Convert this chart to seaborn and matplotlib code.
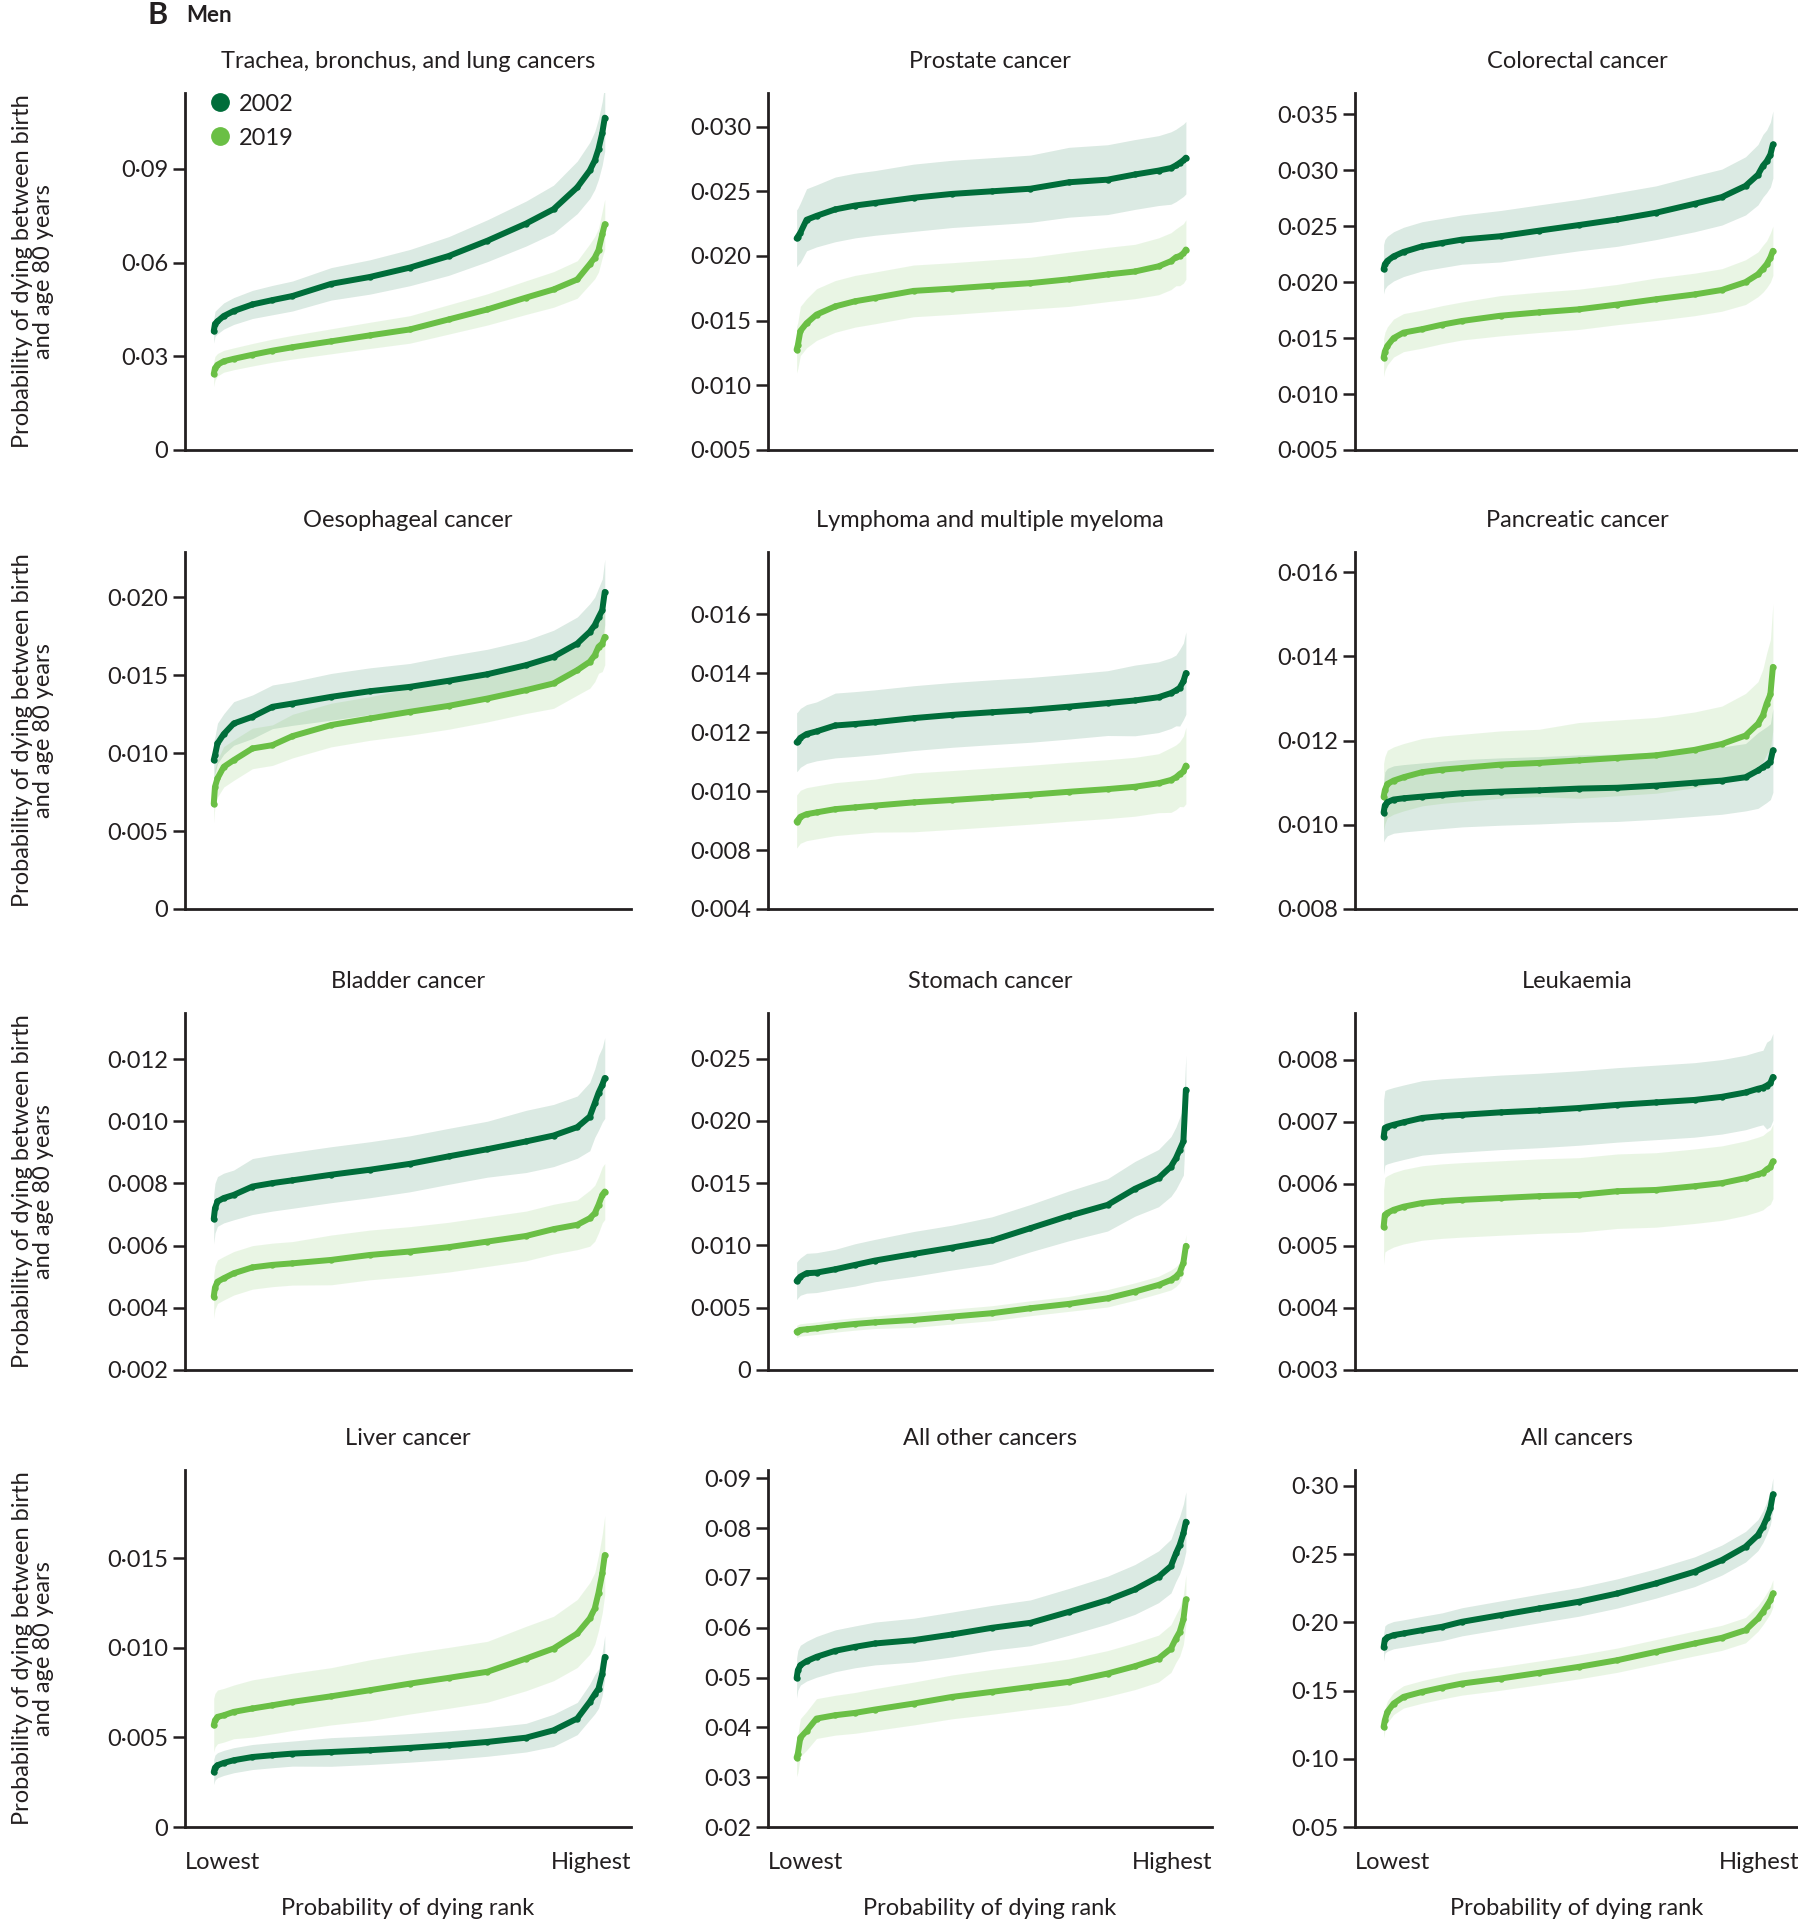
import numpy as np
import pandas as pd
import matplotlib
matplotlib.use("Agg")
import matplotlib.pyplot as plt
from matplotlib.lines import Line2D
import seaborn as sns

# ---------------- data ----------------
ranks = [1, 2, 4, 9, 17, 32, 48, 64, 95, 126, 158, 189, 220, 251, 273, 292, 302, 306, 309, 312, 314]
years = ["2002", "2019"]
titles = ["Trachea, bronchus, and lung cancers", "Prostate cancer", "Colorectal cancer",
          "Oesophageal cancer", "Lymphoma and multiple myeloma", "Pancreatic cancer",
          "Bladder cancer", "Stomach cancer", "Leukaemia",
          "Liver cancer", "All other cancers", "All cancers"]

lung_2002 = [0.0380, 0.0404, 0.0412, 0.0429, 0.0445, 0.0466, 0.0480, 0.0493, 0.0532, 0.0554, 0.0584, 0.0621, 0.0670, 0.0725, 0.0771, 0.0841, 0.0895, 0.0927, 0.0964, 0.1015, 0.1064]
lung_2019 = [0.0243, 0.0262, 0.0273, 0.0284, 0.0292, 0.0305, 0.0318, 0.0329, 0.0348, 0.0367, 0.0386, 0.0418, 0.0450, 0.0488, 0.0514, 0.0546, 0.0595, 0.0616, 0.0640, 0.0691, 0.0723]
lung_2002_ci = [0.0038, 0.0040, 0.0040, 0.0042, 0.0043, 0.0045, 0.0047, 0.0048, 0.0052, 0.0055, 0.0058, 0.0062, 0.0067, 0.0072, 0.0077, 0.0084, 0.0090, 0.0093, 0.0097, 0.0102, 0.0107]
lung_2019_ci = [0.0040, 0.0038, 0.0036, 0.0035, 0.0035, 0.0036, 0.0037, 0.0038, 0.0040, 0.0042, 0.0044, 0.0047, 0.0050, 0.0054, 0.0057, 0.0060, 0.0065, 0.0068, 0.0070, 0.0075, 0.0080]

prostate_2002 = [0.02136, 0.0215, 0.0218, 0.0228, 0.0231, 0.0236, 0.0239, 0.0241, 0.0245, 0.0248, 0.0250, 0.0252, 0.0257, 0.0259, 0.0263, 0.0266, 0.0268, 0.0270, 0.0272, 0.0274, 0.0276]
prostate_2019 = [0.01275, 0.0131, 0.0142, 0.0148, 0.01547, 0.0161, 0.0165, 0.01676, 0.0173, 0.01748, 0.0177, 0.0179, 0.0182, 0.01857, 0.0188, 0.0192, 0.0196, 0.0199, 0.0200, 0.0202, 0.0205]
prostate_2002_ci = [0.0022, 0.0022, 0.0023, 0.0024, 0.0024, 0.0025, 0.0025, 0.0025, 0.0026, 0.0026, 0.0026, 0.0026, 0.0027, 0.0027, 0.0027, 0.0027, 0.0028, 0.0028, 0.0028, 0.0028, 0.0028]
prostate_2019_ci = [0.0018, 0.0018, 0.0019, 0.0019, 0.0020, 0.0020, 0.0020, 0.0020, 0.0020, 0.0020, 0.0020, 0.0020, 0.0021, 0.0021, 0.0021, 0.0022, 0.0022, 0.0022, 0.0023, 0.0023, 0.0023]

colorectal_2002 = [0.02115, 0.0216, 0.0219, 0.0223, 0.0227, 0.0232, 0.0235, 0.0238, 0.0241, 0.0246, 0.0251, 0.0256, 0.0262, 0.0270, 0.0276, 0.0286, 0.0296, 0.0304, 0.0308, 0.0314, 0.0323]
colorectal_2019 = [0.01325, 0.0138, 0.0143, 0.0150, 0.01549, 0.0158, 0.0162, 0.01653, 0.0170, 0.0173, 0.01757, 0.0180, 0.01847, 0.0189, 0.0193, 0.0200, 0.0207, 0.0212, 0.0216, 0.0222, 0.0228]
colorectal_2002_ci = [0.0022, 0.0022, 0.0022, 0.0022, 0.0022, 0.0022, 0.0022, 0.0022, 0.0023, 0.0023, 0.0023, 0.0024, 0.0024, 0.0025, 0.0025, 0.0026, 0.0027, 0.0028, 0.0028, 0.0029, 0.0030]
colorectal_2019_ci = [0.0017, 0.0017, 0.0017, 0.0017, 0.0017, 0.0017, 0.0017, 0.0017, 0.0018, 0.0018, 0.0018, 0.0018, 0.0019, 0.0019, 0.0019, 0.0020, 0.0020, 0.0021, 0.0021, 0.0022, 0.0022]

oesophageal_2002 = [0.00955, 0.00987, 0.01062, 0.01122, 0.0119, 0.01233, 0.01297, 0.01318, 0.01361, 0.01397, 0.01425, 0.01464, 0.01506, 0.01564, 0.01618, 0.01703, 0.01778, 0.01821, 0.0187, 0.01917, 0.02034]
oesophageal_2019 = [0.00673, 0.00784, 0.00838, 0.00912, 0.00955, 0.0103, 0.01051, 0.01109, 0.0118, 0.01222, 0.01265, 0.01303, 0.0135, 0.01404, 0.01447, 0.01532, 0.01586, 0.01628, 0.01682, 0.01703, 0.01746]
oesophageal_2002_ci = [0.0012, 0.0012, 0.0013, 0.0013, 0.0014, 0.0014, 0.0014, 0.0014, 0.0015, 0.0015, 0.0015, 0.0016, 0.0016, 0.0016, 0.0017, 0.0017, 0.0018, 0.0018, 0.0019, 0.0020, 0.0021]
oesophageal_2019_ci = [0.0012, 0.0012, 0.0012, 0.0013, 0.0013, 0.0013, 0.0013, 0.0014, 0.0014, 0.0014, 0.0015, 0.0015, 0.0015, 0.0015, 0.0016, 0.0016, 0.0017, 0.0017, 0.0017, 0.0018, 0.0018]

lymphoma_2002 = [0.01166, 0.0117, 0.01181, 0.01194, 0.01203, 0.01223, 0.01228, 0.01234, 0.01248, 0.01259, 0.01268, 0.01276, 0.01287, 0.01299, 0.01308, 0.01319, 0.01333, 0.01342, 0.01351, 0.01373, 0.01401]
lymphoma_2019 = [0.00897, 0.00902, 0.00913, 0.00922, 0.00928, 0.00939, 0.00945, 0.00951, 0.00962, 0.0097, 0.00979, 0.00988, 0.00998, 0.01007, 0.01015, 0.01027, 0.01038, 0.01047, 0.01058, 0.01067, 0.01087]
lymphoma_2002_ci = [0.0010, 0.0010, 0.0010, 0.0010, 0.0010, 0.0011, 0.0011, 0.0011, 0.0011, 0.0011, 0.0011, 0.0011, 0.0011, 0.0011, 0.0012, 0.0012, 0.0012, 0.0012, 0.0013, 0.0013, 0.0014]
lymphoma_2019_ci = [0.0009, 0.0009, 0.0009, 0.0009, 0.0009, 0.0009, 0.0009, 0.0009, 0.0010, 0.0010, 0.0010, 0.0010, 0.0010, 0.0010, 0.0010, 0.0010, 0.0011, 0.0011, 0.0011, 0.0012, 0.0013]

pancreatic_2002 = [0.01029, 0.01046, 0.01054, 0.0106, 0.01063, 0.01067, 0.01071, 0.01075, 0.01079, 0.01082, 0.01086, 0.01088, 0.01093, 0.0110, 0.01105, 0.01113, 0.01129, 0.01137, 0.01143, 0.0115, 0.01177]
pancreatic_2019 = [0.01066, 0.01082, 0.01097, 0.01105, 0.01113, 0.01125, 0.01131, 0.01135, 0.01143, 0.01147, 0.01153, 0.01159, 0.01165, 0.01178, 0.01192, 0.01212, 0.0124, 0.0126, 0.01288, 0.0131, 0.01375]
pancreatic_2002_ci = [0.0007, 0.0008, 0.0008, 0.0008, 0.0008, 0.0008, 0.0008, 0.0008, 0.0008, 0.0008, 0.0008, 0.0008, 0.0008, 0.0008, 0.0008, 0.0008, 0.0009, 0.0009, 0.0009, 0.0009, 0.0010]
pancreatic_2019_ci = [0.0008, 0.0008, 0.0008, 0.0008, 0.0008, 0.0008, 0.0008, 0.0008, 0.0008, 0.0008, 0.0009, 0.0009, 0.0009, 0.0009, 0.0009, 0.0010, 0.0010, 0.0011, 0.0012, 0.0013, 0.0015]

bladder_2002 = [0.00685, 0.0072, 0.00742, 0.00753, 0.00763, 0.0079, 0.00801, 0.0081, 0.00828, 0.00844, 0.00863, 0.00887, 0.0091, 0.00935, 0.00954, 0.00981, 0.01015, 0.01058, 0.01091, 0.01117, 0.01139]
bladder_2019 = [0.00436, 0.00465, 0.00484, 0.00495, 0.00511, 0.0053, 0.00538, 0.00543, 0.00554, 0.0057, 0.00581, 0.00595, 0.00613, 0.00631, 0.00653, 0.00667, 0.00688, 0.00704, 0.00731, 0.00763, 0.00774]
bladder_2002_ci = [0.0008, 0.0008, 0.0008, 0.0008, 0.0008, 0.0009, 0.0009, 0.0009, 0.0009, 0.0009, 0.0009, 0.0009, 0.0009, 0.0010, 0.0010, 0.0010, 0.0011, 0.0011, 0.0012, 0.0012, 0.0013]
bladder_2019_ci = [0.0007, 0.0007, 0.0007, 0.0007, 0.0007, 0.0007, 0.0007, 0.0007, 0.0008, 0.0008, 0.0008, 0.0008, 0.0008, 0.0008, 0.0008, 0.0008, 0.0009, 0.0009, 0.0009, 0.0009, 0.0009]

stomach_2002 = [0.00715, 0.00729, 0.0075, 0.00777, 0.00782, 0.00809, 0.00844, 0.00879, 0.00932, 0.00983, 0.0104, 0.01139, 0.01238, 0.01326, 0.01455, 0.01541, 0.01634, 0.01701, 0.01768, 0.01836, 0.02251]
stomach_2019 = [0.00308, 0.00314, 0.00322, 0.00327, 0.00335, 0.00354, 0.0037, 0.00383, 0.00402, 0.00429, 0.00456, 0.00496, 0.00531, 0.00576, 0.0063, 0.00683, 0.00723, 0.0075, 0.00782, 0.00863, 0.00997]
stomach_2002_ci = [0.0015, 0.0015, 0.0015, 0.0016, 0.0016, 0.0016, 0.0017, 0.0017, 0.0018, 0.0018, 0.0019, 0.0019, 0.0020, 0.0021, 0.0022, 0.0023, 0.0024, 0.0025, 0.0026, 0.0027, 0.0028]
stomach_2019_ci = [0.0005, 0.0005, 0.0005, 0.0005, 0.0005, 0.0005, 0.0005, 0.0005, 0.0006, 0.0006, 0.0006, 0.0006, 0.0006, 0.0007, 0.0007, 0.0007, 0.0008, 0.0008, 0.0008, 0.0009, 0.0009]

leukaemia_2002 = [0.00675, 0.0069, 0.00692, 0.00695, 0.00699, 0.00706, 0.00709, 0.00711, 0.00715, 0.00718, 0.00722, 0.00727, 0.00731, 0.00735, 0.0074, 0.00747, 0.00753, 0.00755, 0.00758, 0.00762, 0.00772]
leukaemia_2019 = [0.0053, 0.0055, 0.00553, 0.00558, 0.00563, 0.00569, 0.00572, 0.00574, 0.00577, 0.0058, 0.00582, 0.00588, 0.0059, 0.00596, 0.00601, 0.00609, 0.00615, 0.00618, 0.00623, 0.00627, 0.00636]
leukaemia_2002_ci = [0.0006, 0.0006, 0.0006, 0.0006, 0.0006, 0.0006, 0.0006, 0.0006, 0.0006, 0.0006, 0.0006, 0.0006, 0.0006, 0.0006, 0.0006, 0.0006, 0.0006, 0.0006, 0.0007, 0.0007, 0.0007]
leukaemia_2019_ci = [0.0006, 0.0006, 0.0006, 0.0006, 0.0006, 0.0006, 0.0006, 0.0006, 0.0006, 0.0006, 0.0006, 0.0006, 0.0006, 0.0006, 0.0006, 0.0006, 0.0006, 0.0006, 0.0006, 0.0006, 0.0006]

liver_2002 = [0.00307, 0.00332, 0.00345, 0.00358, 0.00373, 0.00391, 0.00401, 0.0041, 0.00419, 0.00429, 0.00442, 0.00457, 0.00475, 0.00499, 0.0054, 0.00606, 0.00699, 0.00742, 0.00773, 0.00857, 0.0095]
liver_2019 = [0.00568, 0.00596, 0.00615, 0.00624, 0.00643, 0.00662, 0.0068, 0.00699, 0.0073, 0.00764, 0.00801, 0.00833, 0.00867, 0.00941, 0.00997, 0.01081, 0.01165, 0.01221, 0.01308, 0.01416, 0.01519]
liver_2002_ci = [0.0007, 0.0007, 0.0007, 0.0007, 0.0007, 0.0007, 0.0007, 0.0007, 0.0008, 0.0008, 0.0008, 0.0008, 0.0008, 0.0008, 0.0009, 0.0009, 0.0010, 0.0011, 0.0011, 0.0012, 0.0012]
liver_2019_ci = [0.0015, 0.0015, 0.0015, 0.0015, 0.0015, 0.0016, 0.0016, 0.0016, 0.0016, 0.0017, 0.0017, 0.0017, 0.0017, 0.0018, 0.0018, 0.0019, 0.0020, 0.0020, 0.0021, 0.0022, 0.0022]

other_2002 = [0.04987, 0.05148, 0.05249, 0.05329, 0.05416, 0.05537, 0.05617, 0.05684, 0.05751, 0.05865, 0.05999, 0.06099, 0.0632, 0.06555, 0.06769, 0.07023, 0.07238, 0.07492, 0.0766, 0.07894, 0.08129]
other_2019 = [0.03393, 0.03474, 0.03795, 0.03929, 0.04177, 0.04244, 0.04291, 0.04358, 0.04478, 0.04612, 0.04713, 0.04813, 0.04914, 0.05081, 0.05228, 0.05382, 0.05583, 0.05784, 0.05918, 0.06166, 0.06568]
other_2002_ci = [0.0040, 0.0040, 0.0040, 0.0040, 0.0041, 0.0042, 0.0042, 0.0043, 0.0044, 0.0045, 0.0045, 0.0046, 0.0047, 0.0048, 0.0050, 0.0052, 0.0054, 0.0056, 0.0058, 0.0059, 0.0060]
other_2019_ci = [0.0038, 0.0038, 0.0038, 0.0039, 0.0040, 0.0040, 0.0041, 0.0042, 0.0043, 0.0044, 0.0045, 0.0045, 0.0046, 0.0046, 0.0047, 0.0047, 0.0048, 0.0048, 0.0049, 0.0050, 0.0050]

allc_2002 = [0.18154, 0.18741, 0.18888, 0.19059, 0.19181, 0.19425, 0.1967, 0.20037, 0.20526, 0.21015, 0.21504, 0.22115, 0.2285, 0.23704, 0.2456, 0.25538, 0.26394, 0.27005, 0.27616, 0.2835, 0.29377]
allc_2019 = [0.12335, 0.12824, 0.13435, 0.14046, 0.14535, 0.14902, 0.1522, 0.15513, 0.1588, 0.16296, 0.16736, 0.17225, 0.17836, 0.18447, 0.18863, 0.19425, 0.2028, 0.2077, 0.21186, 0.21626, 0.22115]
allc_2002_ci = [0.0100, 0.0100, 0.0100, 0.0100, 0.0100, 0.0101, 0.0102, 0.0103, 0.0104, 0.0105, 0.0106, 0.0107, 0.0108, 0.0109, 0.0110, 0.0112, 0.0114, 0.0116, 0.0118, 0.0119, 0.0120]
allc_2019_ci = [0.0080, 0.0080, 0.0080, 0.0081, 0.0082, 0.0083, 0.0084, 0.0085, 0.0086, 0.0087, 0.0088, 0.0089, 0.0090, 0.0091, 0.0092, 0.0093, 0.0094, 0.0095, 0.0096, 0.0098, 0.0100]

# y ticks and tick labels per panel
yticks = [
    [0, 0.03, 0.06, 0.09],
    [0.005, 0.010, 0.015, 0.020, 0.025, 0.030],
    [0.005, 0.010, 0.015, 0.020, 0.025, 0.030, 0.035],
    [0, 0.005, 0.010, 0.015, 0.020],
    [0.006, 0.008, 0.010, 0.012, 0.014, 0.016],
    [0.008, 0.010, 0.012, 0.014, 0.016],
    [0.002, 0.004, 0.006, 0.008, 0.010, 0.012],
    [0, 0.005, 0.010, 0.015, 0.020, 0.025],
    [0.003, 0.004, 0.005, 0.006, 0.007, 0.008],
    [0, 0.005, 0.010, 0.015],
    [0.02, 0.03, 0.04, 0.05, 0.06, 0.07, 0.08, 0.09],
    [0.05, 0.10, 0.15, 0.20, 0.25, 0.30],
]
ytick_labels = [
    ["0", "0·03", "0·06", "0·09"],
    ["0·005", "0·010", "0·015", "0·020", "0·025", "0·030"],
    ["0·005", "0·010", "0·015", "0·020", "0·025", "0·030", "0·035"],
    ["0", "0·005", "0·010", "0·015", "0·020"],
    ["0·004", "0·008", "0·010", "0·012", "0·014", "0·016"],
    ["0·008", "0·010", "0·012", "0·014", "0·016"],
    ["0·002", "0·004", "0·006", "0·008", "0·010", "0·012"],
    ["0", "0·005", "0·010", "0·015", "0·020", "0·025"],
    ["0·003", "0·004", "0·005", "0·006", "0·007", "0·008"],
    ["0", "0·005", "0·010", "0·015"],
    ["0·02", "0·03", "0·04", "0·05", "0·06", "0·07", "0·08", "0·09"],
    ["0·05", "0·10", "0·15", "0·20", "0·25", "0·30"],
]
ylims = [(0, 0.1143), (0.005, 0.0326), (0.005, 0.0369), (0, 0.0229), (0.006, 0.01812), (0.008, 0.01648),
         (0.002, 0.01348), (0, 0.02867), (0.003, 0.00875), (0, 0.01994), (0.02, 0.09167), (0.05, 0.3116)]

series = [
    (lung_2002, lung_2019, lung_2002_ci, lung_2019_ci),
    (prostate_2002, prostate_2019, prostate_2002_ci, prostate_2019_ci),
    (colorectal_2002, colorectal_2019, colorectal_2002_ci, colorectal_2019_ci),
    (oesophageal_2002, oesophageal_2019, oesophageal_2002_ci, oesophageal_2019_ci),
    (lymphoma_2002, lymphoma_2019, lymphoma_2002_ci, lymphoma_2019_ci),
    (pancreatic_2002, pancreatic_2019, pancreatic_2002_ci, pancreatic_2019_ci),
    (bladder_2002, bladder_2019, bladder_2002_ci, bladder_2019_ci),
    (stomach_2002, stomach_2019, stomach_2002_ci, stomach_2019_ci),
    (leukaemia_2002, leukaemia_2019, leukaemia_2002_ci, leukaemia_2019_ci),
    (liver_2002, liver_2019, liver_2002_ci, liver_2019_ci),
    (other_2002, other_2019, other_2002_ci, other_2019_ci),
    (allc_2002, allc_2019, allc_2002_ci, allc_2019_ci),
]

# ---------------- style ----------------
sns.set_theme(style="ticks")
plt.rcParams["font.family"] = ["Lato", "DejaVu Sans"]
INK = "#231f20"
C2002 = "#006d3a"
C2019 = "#6abf45"
plt.rcParams.update({
    "axes.edgecolor": INK, "axes.linewidth": 2.0,
    "xtick.color": INK, "ytick.color": INK,
    "text.color": INK, "axes.labelcolor": INK,
})

W, H = 1799, 1920
fig = plt.figure(figsize=(W / 100, H / 100), dpi=100)

col_left = [185, 768, 1355]
col_width = [446, 444, 444]
row_top = [93, 552, 1013, 1470]
row_h = 357

for i, title in enumerate(titles):
    r, c = divmod(i, 3)
    ax = fig.add_axes([col_left[c] / W, 1 - (row_top[r] + row_h) / H, col_width[c] / W, row_h / H])
    y02, y19, e02, e19 = (np.array(v) for v in series[i])
    x = np.array(ranks)
    ax.fill_between(x, y02 - e02, y02 + e02, color=C2002, alpha=0.14, linewidth=0)
    ax.fill_between(x, y19 - e19, y19 + e19, color=C2019, alpha=0.14, linewidth=0)
    df = pd.DataFrame({"rank": np.concatenate([x, x]),
                       "p": np.concatenate([y02, y19]),
                       "year": ["2002"] * len(x) + ["2019"] * len(x)})
    sns.lineplot(data=df, x="rank", y="p", hue="year", palette={"2002": C2002, "2019": C2019},
                 hue_order=["2019", "2002"], linewidth=4.3, marker="o", markersize=4.6,
                 markeredgewidth=0, legend=False, ax=ax, sort=True)
    ax.set_xlim(-22, 335)
    ax.set_ylim(*ylims[i])
    ax.set_yticks(yticks[i])
    ax.set_yticklabels(ytick_labels[i])
    ax.tick_params(axis="y", length=9, width=1.8, labelsize=17, pad=3)
    ax.set_title(title, fontsize=17, pad=18)
    ax.set_ylabel("")
    ax.set_xlabel("")
    sns.despine(ax=ax)
    if r == 3:
        ax.set_xticks([-22, 335])
        ax.set_xticklabels(["Lowest", "Highest"])
        labs = ax.get_xticklabels()
        labs[0].set_ha("left")
        labs[1].set_ha("right")
        ax.tick_params(axis="x", length=0, labelsize=17, pad=18)
        ax.set_xlabel("Probability of dying rank", fontsize=17, labelpad=18)
    else:
        ax.set_xticks([])
    if c == 0:
        yc = 1 - (row_top[r] + row_h / 2) / H
        fig.text(33 / W, yc, "Probability of dying between birth\nand age 80 years",
                 rotation=90, ha="center", va="center", fontsize=17, linespacing=1.05)
    if i == 0:
        handles = [Line2D([], [], marker="o", linestyle="", color=C2002, markersize=12.5, label="2002"),
                   Line2D([], [], marker="o", linestyle="", color=C2019, markersize=12.5, label="2019")]
        ax.legend(handles=handles, loc="upper left", bbox_to_anchor=(0.03, 1.025), frameon=False,
                  fontsize=17, handletextpad=0.3, labelspacing=0.55, borderaxespad=0, handlelength=1.0)

fig.text(148 / W, 1 - 15 / H, "B", fontsize=22, fontweight="bold", ha="left", va="center")
fig.text(186 / W, 1 - 15 / H, "Men", fontsize=16, fontweight="bold", ha="left", va="center")

fig.savefig("out.png", dpi=100)
